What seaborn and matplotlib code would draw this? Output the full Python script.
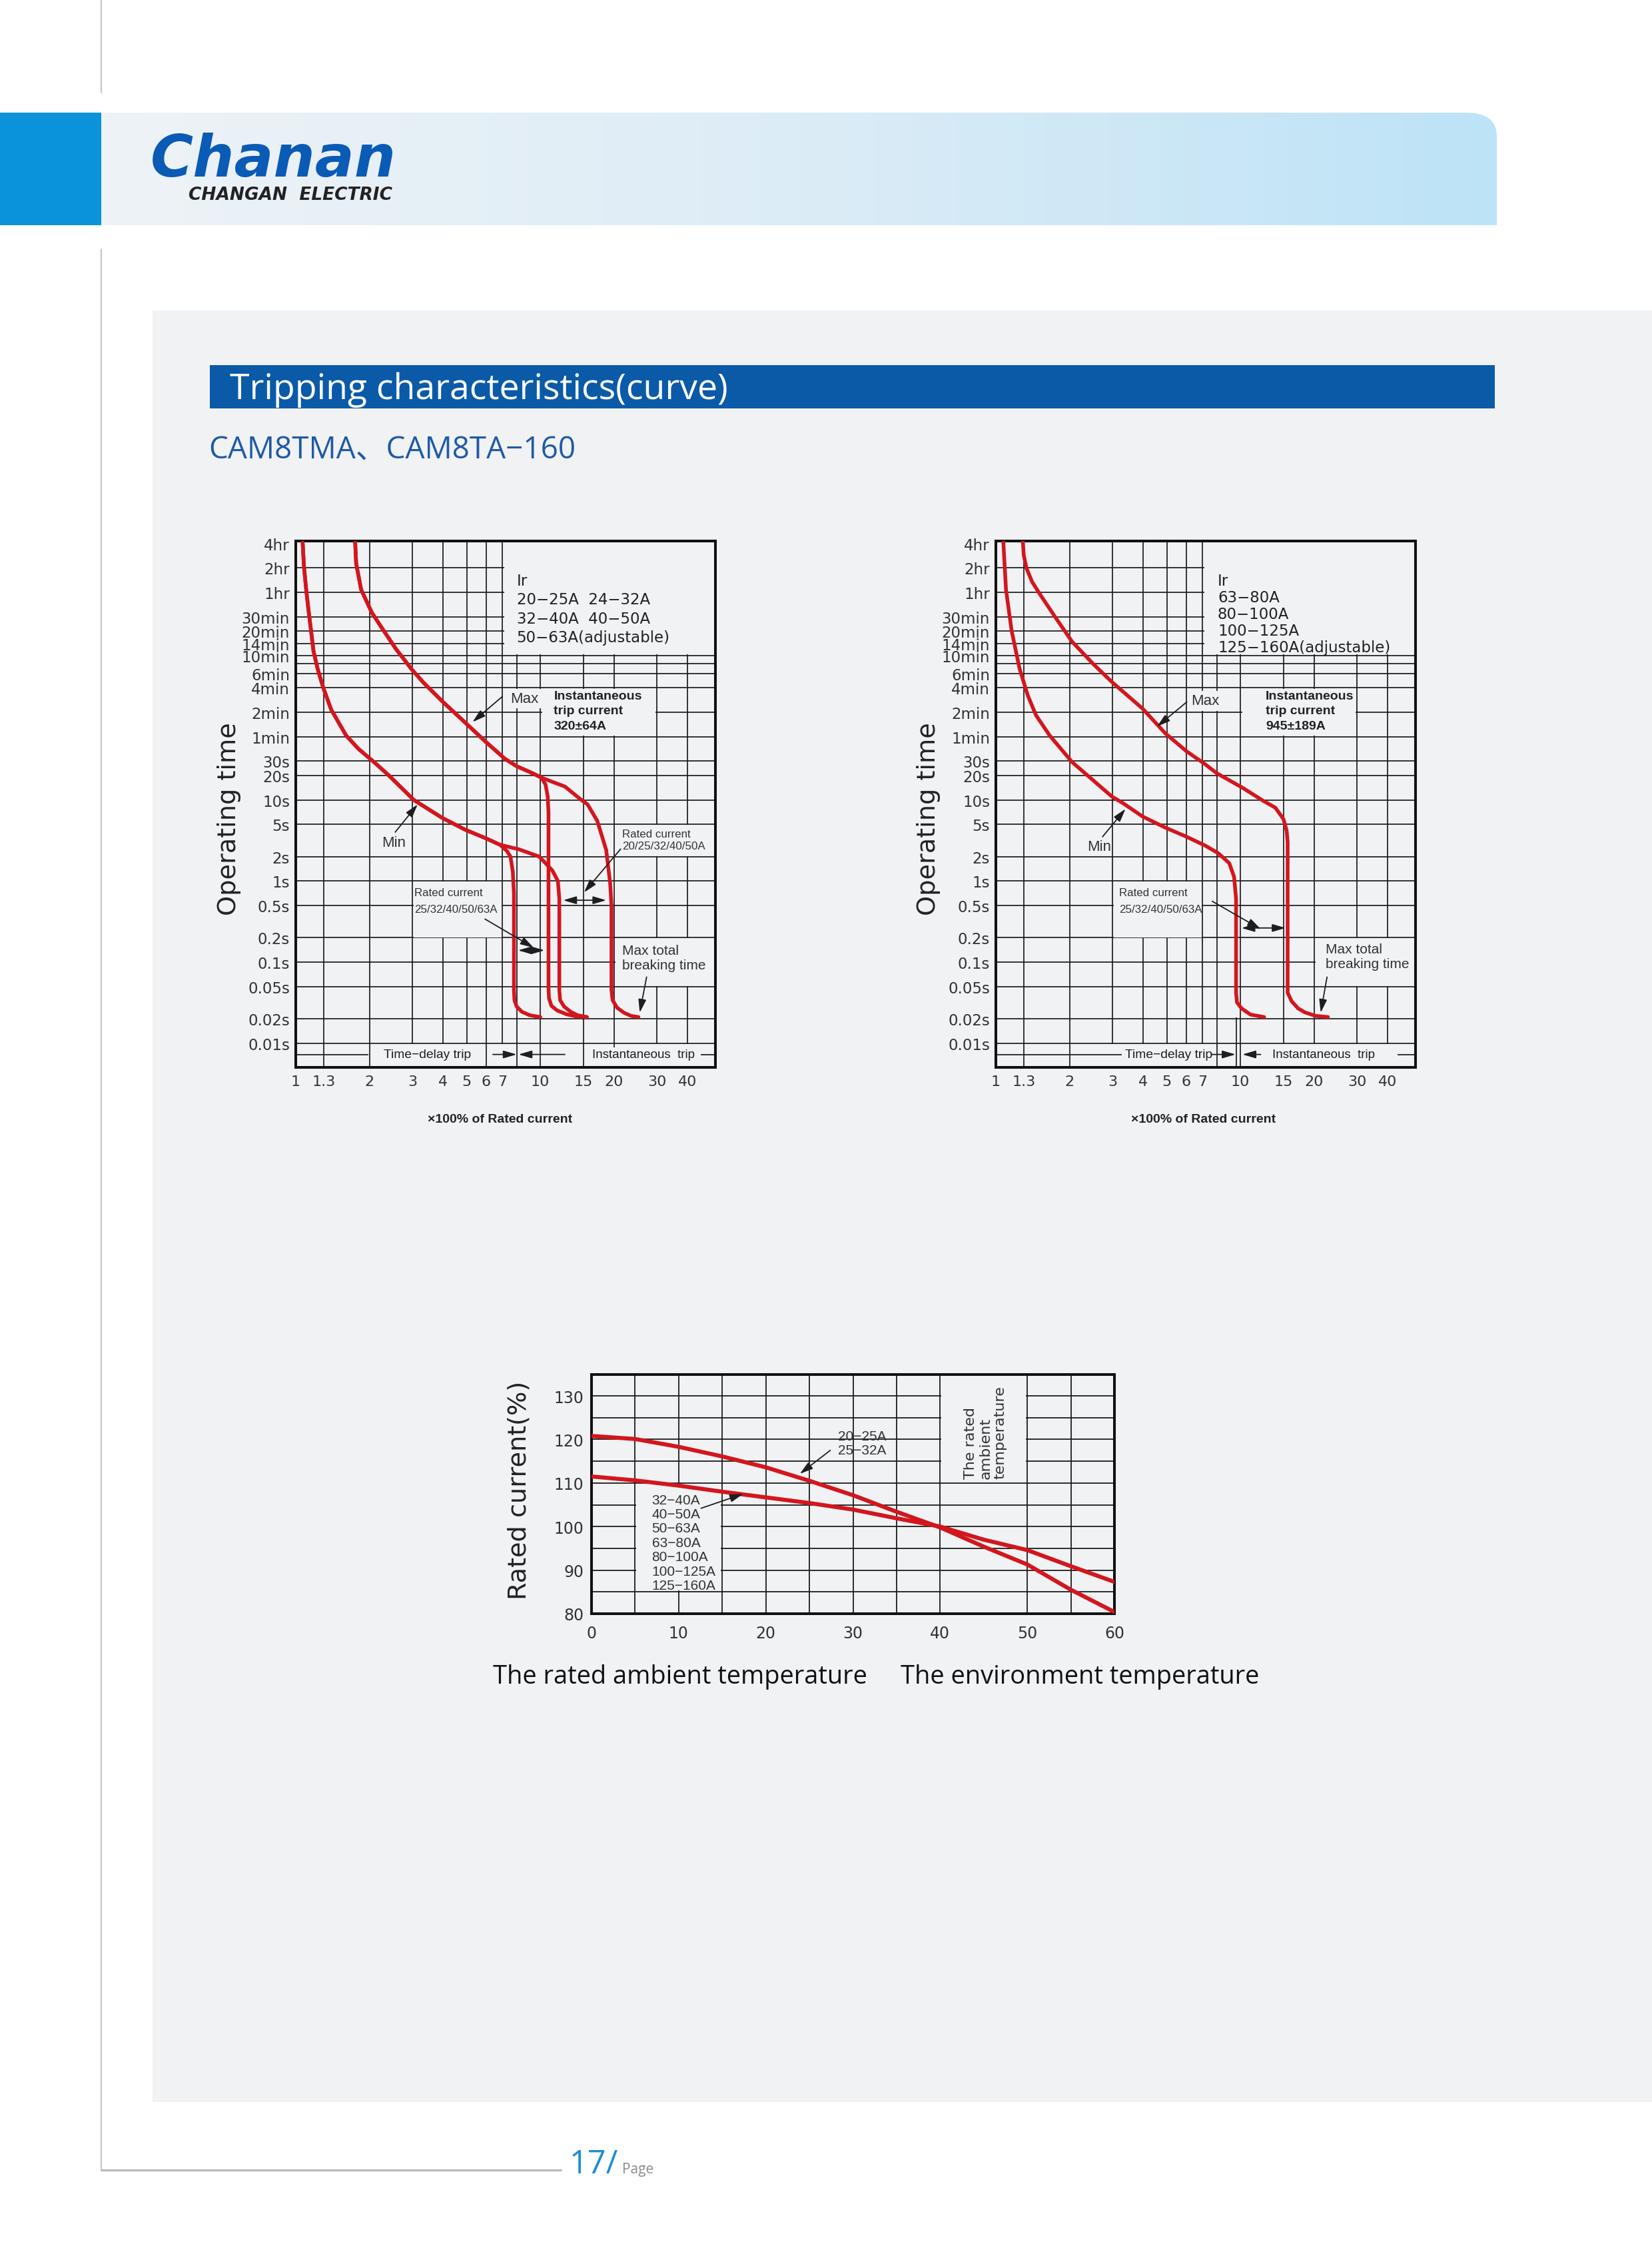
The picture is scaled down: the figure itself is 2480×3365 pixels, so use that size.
import numpy as np
import pandas as pd
import matplotlib
matplotlib.use("Agg")
import matplotlib.pyplot as plt
import seaborn as sns
from matplotlib.patches import Rectangle, PathPatch
from matplotlib.path import Path
from matplotlib.colors import LinearSegmentedColormap
from matplotlib.ticker import NullLocator

sns.set_theme(style="white")
plt.rcParams['font.family'] = ['DejaVu Sans']

# ---------------------------------------------------------------- data
TIME_TICKS = [14400, 7200, 3600, 1800, 1200, 840, 600, 360, 240, 120, 60, 30, 20, 10,
              5, 2, 1, 0.5, 0.2, 0.1, 0.05, 0.02, 0.01]
TIME_LABELS = ['4hr', '2hr', '1hr', '30min', '20min', '14min', '10min', '6min', '4min',
               '2min', '1min', '30s', '20s', '10s', '5s', '2s', '1s', '0.5s', '0.2s',
               '0.1s', '0.05s', '0.02s', '0.01s']
TIME_GRID = [7200, 3600, 1800, 1200, 840, 600, 480, 360, 240, 120, 60, 30, 20, 10,
             5, 2, 1, 0.5, 0.2, 0.1, 0.05, 0.02, 0.01]
MULT_TICKS = [1, 1.3, 2, 3, 4, 5, 6, 7, 10, 15, 20, 30, 40]
MULT_LABELS = ['1', '1.3', '2', '3', '4', '5', '6', '7', '10', '15', '20', '30', '40']
MULT_GRID = [1.3, 2, 3, 4, 5, 6, 7, 8, 10, 15, 20, 30, 40]

# CAM8TMA (Ir 20-63A) curves
A_MIN_X = [1.067, 1.080, 1.103, 1.131, 1.155, 1.181, 1.228, 1.293, 1.395, 1.607, 1.803,
           2.10, 2.39, 3.04, 3.97, 4.92, 6.0, 6.84]
A_MIN_Y = [14700, 7570, 3900, 2010, 1213, 687, 414, 245, 130, 62, 42.6,
           28.8, 20.3, 9.96, 6.0, 4.3, 3.35, 2.8]
A_MIN_LOW_X = [7.3, 7.55, 7.72, 7.8, 7.8, 7.84, 8.0, 8.4, 9.05, 10.0]
A_MIN_LOW_Y = [2.35, 2.0, 1.3, 0.7, 0.045, 0.034, 0.0285, 0.0245, 0.0222, 0.0211]
A_MIN_HIGH_X = [8.2, 9.9, 11.2, 11.8, 11.96, 11.96, 12.05, 12.5, 13.3, 14.2, 15.5]
A_MIN_HIGH_Y = [2.45, 2.0, 1.35, 1.0, 0.6, 0.045, 0.034, 0.0285, 0.0245, 0.0222, 0.0211]
A_MAX_X = [1.75, 1.766, 1.85, 2.05, 2.27, 2.57, 2.98, 3.33, 3.97, 4.92, 6.0,
           7.17, 8.0, 9.29, 10.1]
A_MAX_Y = [14700, 8170, 3900, 2010, 1260, 721, 405, 278, 164, 90, 51.5,
           32, 26, 21.3, 18.8]
A_MAX_LOW_X = [10.5, 10.72, 10.8, 10.8, 10.85, 11.1, 11.7, 12.8, 14.0, 15.5]
A_MAX_LOW_Y = [15.5, 11, 7, 0.048, 0.036, 0.029, 0.0255, 0.0228, 0.0215, 0.0211]
A_MAX_HIGH_X = [11.3, 12.6, 14.7, 15.6, 17.1, 18.6, 19.3, 19.54, 19.54, 19.75, 20.6, 22.0, 23.5, 25.2]
A_MAX_HIGH_Y = [16.5, 14.6, 10.0, 8.8, 5.5, 2.4, 0.94, 0.5, 0.045, 0.034, 0.0275, 0.0238, 0.0218, 0.0211]

# CAM8TA-160 (Ir 63-160A) curves
B_MIN_X = [1.073, 1.10, 1.16, 1.25, 1.35, 1.46, 1.66, 2.05, 2.98, 3.31, 3.98, 4.93, 6.0,
           7.18, 8.12, 9.0, 9.42, 9.6, 9.6, 9.68, 10.1, 11.0, 12.5]
B_MIN_Y = [15000, 3900, 1213, 414, 194, 110, 62, 29.2, 11, 9.1, 6.24, 4.55, 3.53,
           2.73, 2.2, 1.66, 1.13, 0.6, 0.042, 0.032, 0.027, 0.0226, 0.0211]
B_MAX_X = [1.29, 1.30, 1.335, 1.406, 1.50, 1.75, 2.05, 2.5, 2.98, 3.98, 4.93, 6.0, 7.18,
           8.0, 10.2, 12.35, 13.9, 15.0, 15.45, 15.6, 15.6, 16.2, 17.2, 18.4, 20.3, 22.8]
B_MAX_Y = [15000, 10380, 7110, 4870, 3570, 1780, 889, 473, 284, 133, 66, 40, 27.4,
           21.3, 14.1, 9.8, 8.0, 5.8, 4.2, 3.0, 0.042, 0.033, 0.027, 0.024, 0.0218, 0.0211]

# Temperature derating chart
TEMP_C = [0, 5, 10, 15, 20, 25, 30, 35, 40, 45, 50, 55, 60]
RATED_20_32A = [120.8, 120.1, 118.3, 116.1, 113.6, 110.5, 107.2, 103.4, 99.8, 95.4, 91.3, 85.5, 80.4]
RATED_32_160A = [111.5, 110.6, 109.4, 108.0, 106.7, 105.4, 103.9, 101.9, 100.0, 97.0, 94.6, 90.9, 87.3]
TEMP_TICKS = [0, 10, 20, 30, 40, 50, 60]
TEMP_GRID = [5, 10, 15, 20, 25, 30, 35, 40, 50, 55]
PCT_TICKS = [80, 90, 100, 110, 120, 130]
PCT_GRID = [85, 90, 95, 100, 105, 110, 115, 120, 125, 130]

# ---------------------------------------------------------------- style
W, H = 2480, 3366
PANEL = '#f1f2f4'
RED = '#d3161e'
GRID = '#1c1c1c'
INK = '#1e1e1e'
X_LO, X_HI = 1.0, 52.0
Y_LO, Y_HI = 0.00506, 15460
ROW_Y = 0.0073
ARIAL = ['Liberation Sans', 'DejaVu Sans']
OPEN = ['Open Sans', 'Noto Sans CJK SC', 'DejaVu Sans']

fig = plt.figure(figsize=(W / 100, H / 100), dpi=100, facecolor='white')

# ---------------------------------------------------------------- page background
bg = fig.add_axes([0, 0, 1, 1], zorder=-10)
bg.axis('off')
bg.add_patch(Rectangle((229, 467), W - 229, 3156 - 467, fc=PANEL, ec='none', zorder=0))
bg.add_patch(Rectangle((0, 170), 152, 169, fc='#0a93d8', ec='none', zorder=1))
hx0, hx1, hy0, hy1 = 152, 2247, 170, 339
verts = [(hx0, hy0), (hx1 - 47, hy0), (hx1, hy0), (hx1, hy0 + 35), (hx1, hy1), (hx0, hy1), (hx0, hy0)]
codes = [Path.MOVETO, Path.LINETO, Path.CURVE3, Path.CURVE3, Path.LINETO, Path.LINETO, Path.CLOSEPOLY]
clip = PathPatch(Path(verts, codes), transform=bg.transData, fc='none', ec='none')
cmap = LinearSegmentedColormap.from_list('hdr', ['#eef3f7', '#dcecf6', '#bde3f6'])
im = bg.imshow(np.linspace(0, 1, 512)[None, :], extent=(hx0, hx1, hy1, hy0), aspect='auto',
               cmap=cmap, interpolation='bilinear', zorder=1)
im.set_clip_path(clip)
bg.plot([152, 152], [0, 140], color='#c8c8c8', lw=1.6, zorder=2)
bg.plot([152, 152], [375, 3258], color='#c8c8c8', lw=1.6, zorder=2)
bg.plot([152, 842], [3258, 3258], color='#b8b8b8', lw=2.2, zorder=2)
bg.add_patch(Rectangle((315, 549), 1929, 65, fc='#0b5aa8', ec='none', zorder=2))
bg.text(345, 585, 'Tripping characteristics(curve)', color='white', fontsize=38.5,
        family=OPEN, va='center', ha='left', zorder=3)
bg.text(313, 676, 'CAM8TMA、CAM8TA−160', color='#1f5aa6', fontsize=33,
        family=OPEN, va='center', ha='left', zorder=3)
bg.text(226, 265, 'Chanan', color='#0a5bb5', fontsize=63, fontweight='bold',
        fontstyle='italic', va='baseline', ha='left', zorder=3)
bg.text(283, 300, 'CHANGAN  ELECTRIC', color='#222222', fontsize=19, fontweight='bold',
        fontstyle='italic', va='baseline', ha='left', zorder=3)
bg.text(855, 3262, '17/', color='#1a8fd4', fontsize=35, family=OPEN, va='baseline', ha='left')
bg.text(934, 3262, 'Page', color='#8a8a8a', fontsize=15, family=OPEN, va='baseline', ha='left')
bg.set_xlim(0, W)
bg.set_ylim(H, 0)


def arrow(ax, tail, tip, style='-|>'):
    ax.annotate('', xy=tip, xytext=tail, xycoords='data', textcoords='data',
                arrowprops=dict(arrowstyle=style + ',head_length=0.75,head_width=0.22',
                                color=INK, lw=1.3, mutation_scale=16, shrinkA=0, shrinkB=0),
                zorder=5)


def curves_frame(named):
    rows = []
    for name, (xs, ys) in named.items():
        for x, y in zip(xs, ys):
            rows.append({'curve': name, 'mult': x, 'time': y})
    return pd.DataFrame(rows)


def trip_chart(ax, df, sp):
    ax.set_facecolor(PANEL)
    ax.set_xscale('log')
    ax.set_yscale('log')
    ax.set_xlim(X_LO, X_HI)
    ax.set_ylim(Y_LO, Y_HI)
    for v in MULT_GRID:
        ax.axvline(v, color=GRID, lw=1.25, zorder=1)
    for v in TIME_GRID:
        ax.axhline(v, color=GRID, lw=1.25, zorder=1)
    for (x0, x1, y0, y1) in sp['masks']:
        ax.add_patch(Rectangle((x0, y0), x1 - x0, y1 - y0, fc=PANEL, ec='none', zorder=1.5))
    ax.add_patch(Rectangle((X_LO, Y_LO), X_HI - X_LO, 0.0098 - Y_LO, fc=PANEL, ec='none', zorder=1.5))
    ax.vlines(sp['band_x'], Y_LO, 0.01, color=GRID, lw=1.25, zorder=1.6)
    for (x, y0, y1) in sp['stubs']:
        ax.vlines(x, y0, y1, color=GRID, lw=1.25, zorder=1.6)
    for (a, b) in sp['row_segments']:
        ax.hlines(ROW_Y, a, b, color=GRID, lw=1.25, zorder=1.6)
    arrow(ax, (sp['row_r'][0], ROW_Y), (sp['row_r'][1], ROW_Y))
    arrow(ax, (sp['row_l'][0], ROW_Y), (sp['row_l'][1], ROW_Y))
    ax.text(sp['row_txt'][0], ROW_Y, 'Time−delay trip', family=ARIAL, fontsize=13.9,
            color=INK, ha='center', va='center', zorder=4)
    ax.text(sp['row_txt'][1], ROW_Y, 'Instantaneous  trip', family=ARIAL, fontsize=13.5,
            color=INK, ha='center', va='center', zorder=4)

    sns.lineplot(data=df, x='mult', y='time', units='curve', estimator=None, sort=False,
                 color=RED, linewidth=4.0, ax=ax, legend=False, zorder=3)

    # annotations
    ax.text(sp['ir'][0], sp['ir'][1], sp['ir'][2], fontsize=16.5, color='#222222',
            ha='left', va='top', linespacing=sp['ir'][3], zorder=4)
    ax.text(sp['inst'][0], sp['inst'][1], sp['inst'][2], family=ARIAL, fontsize=14,
            fontweight='bold', color='#222222', ha='left', va='top', linespacing=1.45, zorder=4)
    ax.text(sp['max'][0], sp['max'][1], 'Max', family=ARIAL, fontsize=16, color='#333333',
            ha='left', va='center', zorder=4,
            bbox=dict(boxstyle='square,pad=0.2', fc=PANEL, ec='none'))
    arrow(ax, sp['max_arrow'][0], sp['max_arrow'][1])
    ax.text(sp['min'][0], sp['min'][1], 'Min', family=ARIAL, fontsize=16, color='#333333',
            ha='center', va='center', zorder=4)
    arrow(ax, sp['min_arrow'][0], sp['min_arrow'][1])
    for (tx, ty, txt, ls) in sp['rated']:
        ax.text(tx, ty, txt, family=ARIAL, fontsize=12.2, color='#333333', ha='left',
                va='top', linespacing=ls, zorder=4)
    for (tail, tip) in sp['rated_arrows']:
        arrow(ax, tail, tip)
    for (y, a, b) in sp['double']:
        arrow(ax, (a, y), (b, y), style='<|-|>')
    ax.text(sp['mtb'][0], sp['mtb'][1], 'Max total\nbreaking time', family=ARIAL,
            fontsize=15, color='#333333', ha='left', va='top', linespacing=1.16, zorder=4)
    arrow(ax, sp['mtb_arrow'][0], sp['mtb_arrow'][1])

    ax.set_xticks(MULT_TICKS)
    ax.set_xticklabels(MULT_LABELS)
    ax.set_yticks(TIME_TICKS)
    ax.set_yticklabels(TIME_LABELS)
    ax.xaxis.set_minor_locator(NullLocator())
    ax.yaxis.set_minor_locator(NullLocator())
    ax.tick_params(axis='both', which='both', length=0, colors='#333333')
    ax.tick_params(axis='y', labelsize=16.5, pad=6.5)
    ax.tick_params(axis='x', labelsize=16, pad=8)
    for s in ax.spines.values():
        s.set_linewidth(2.9)
        s.set_color('#111111')
        s.set_visible(True)
    ax.set_ylabel('Operating time', fontsize=27.5, color='#222222')
    ax.yaxis.set_label_coords(sp['ylab_x'], 0.473)
    ax.set_xlabel('×100% of Rated current', family=ARIAL, fontsize=14, fontweight='bold',
                  color='#222222')
    ax.xaxis.set_label_coords(sp['xlab_x'], -0.087)


IR_BOX = (7.1, X_HI, 625, Y_HI)
INST_BOX = (10.15, 29.5, 62, 233)
MTB_BOX = (20.3, X_HI, 0.0505, 0.197)

axL = fig.add_axes([444 / W, 1 - 1603 / H, 630 / W, 790 / H])
dfL = curves_frame({
    'min_low': (A_MIN_X + A_MIN_LOW_X, A_MIN_Y + A_MIN_LOW_Y),
    'min_high': (A_MIN_X + A_MIN_HIGH_X, A_MIN_Y + A_MIN_HIGH_Y),
    'max_low': (A_MAX_X + A_MAX_LOW_X, A_MAX_Y + A_MAX_LOW_Y),
    'max_high': (A_MAX_X + A_MAX_HIGH_X, A_MAX_Y + A_MAX_HIGH_Y),
})
trip_chart(axL, dfL, {
    'masks': [IR_BOX, INST_BOX, (20.3, X_HI, 2.03, 4.93), (3.03, 6.93, 0.203, 0.985), MTB_BOX],
    'band_x': [1.3, 2, 6, 8, 10, 15],
    'stubs': [(20, 0.0089, 0.01)],
    'row_segments': [(X_LO, 1.98), (45.3, X_HI)],
    'row_r': (6.4, 8.0), 'row_l': (12.6, 8.15),
    'row_txt': (3.46, 26.4),
    'ir': (8.0, 6290, 'Ir\n20−25A  24−32A\n32−40A  40−50A\n50−63A(adjustable)', 1.31),
    'inst': (11.35, 226, 'Instantaneous\ntrip current\n320±64A'),
    'max': (7.56, 177), 'max_arrow': ((7.0, 188), (5.28, 90.8)),
    'min': (2.52, 3.0), 'min_arrow': ((2.55, 4.0), (3.15, 8.8)),
    'rated': [(21.6, 4.4, 'Rated current\n20/25/32/40/50A', 1.26),
              (3.06, 0.83, 'Rated current\n25/32/40/50/63A', 1.78)],
    'rated_arrows': [((21.3, 2.48), (15.1, 0.724)), ((5.94, 0.34), (9.39, 0.151))],
    'double': [(0.58, 12.4, 18.6), (0.14, 8.12, 10.4)],
    'mtb': (21.6, 0.166), 'mtb_arrow': ((27.2, 0.0656), (25.5, 0.0239)),
    'ylab_x': -0.130, 'xlab_x': 0.487,
})

axR = fig.add_axes([1495 / W, 1 - 1603 / H, 630 / W, 790 / H])
dfR = curves_frame({
    'min': (B_MIN_X, B_MIN_Y),
    'max': (B_MAX_X, B_MAX_Y),
})
trip_chart(axR, dfR, {
    'masks': [IR_BOX, INST_BOX, (3.03, 6.93, 0.203, 0.985), MTB_BOX],
    'band_x': [1.3, 2, 8, 10],
    'stubs': [(9.65, Y_LO, 0.021)],
    'row_segments': [(X_LO, 3.27), (44, X_HI)],
    'row_r': (7.6, 9.55), 'row_l': (12.1, 10.2),
    'row_txt': (5.08, 21.9),
    'ir': (8.07, 6290, 'Ir\n63−80A\n80−100A\n100−125A\n125−160A(adjustable)', 1.12),
    'inst': (12.7, 226, 'Instantaneous\ntrip current\n945±189A'),
    'max': (6.28, 166), 'max_arrow': ((6.04, 161), (4.56, 80)),
    'min': (2.64, 2.64), 'min_arrow': ((2.73, 3.51), (3.39, 7.74)),
    'rated': [(3.19, 0.83, 'Rated current\n25/32/40/50/63A', 1.78)],
    'rated_arrows': [((7.67, 0.563), (12.1, 0.256))],
    'double': [(0.264, 10.1, 15.3)],
    'mtb': (22.3, 0.172), 'mtb_arrow': ((22.6, 0.0656), (21.3, 0.0239)),
    'ylab_x': -0.132, 'xlab_x': 0.494,
})

# ---------------------------------------------------------------- temperature chart
axT = fig.add_axes([888 / W, 1 - 2423 / H, 785 / W, 359 / H])
axT.set_facecolor(PANEL)
T_TOP = 134.9
axT.set_xlim(0, 60)
axT.set_ylim(80, T_TOP)
for v in TEMP_GRID:
    axT.axvline(v, color=GRID, lw=1.3, zorder=1)
for v in PCT_GRID:
    axT.axhline(v, color=GRID, lw=1.3, zorder=1)
for (x0, x1, y0, y1) in [(5.15, 14.85, 85.3, 109.7), (40.15, 49.85, 110.3, T_TOP)]:
    axT.add_patch(Rectangle((x0, y0), x1 - x0, y1 - y0, fc=PANEL, ec='none', zorder=1.5))
dfT = pd.DataFrame({
    'temp': TEMP_C + TEMP_C,
    'pct': RATED_20_32A + RATED_32_160A,
    'group': ['20-32A'] * len(TEMP_C) + ['32-160A'] * len(TEMP_C),
})
sns.lineplot(data=dfT, x='temp', y='pct', units='group', estimator=None, sort=False,
             color=RED, linewidth=4.4, ax=axT, legend=False, zorder=3)
axT.text(28.26, 122.2, '20−25A\n25−32A', family=ARIAL, fontsize=15, color='#333333',
         ha='left', va='top', linespacing=1.16, zorder=4)
arrow(axT, (27.4, 117.5), (23.9, 112.1))
axT.text(6.92, 107.6, '32−40A\n40−50A\n50−63A\n63−80A\n80−100A\n100−125A\n125−160A',
         family=ARIAL, fontsize=15, color='#333333', ha='left', va='top', linespacing=1.16, zorder=4)
arrow(axT, (12.57, 104.2), (17.4, 107.5))
axT.text(45.2, 111.0, 'The rated\nambient\ntemperature', fontsize=16, color='#333333',
         rotation=90, ha='center', va='bottom', multialignment='left', linespacing=1.13, zorder=4)
axT.set_xticks(TEMP_TICKS)
axT.set_yticks(PCT_TICKS)
axT.tick_params(axis='both', length=0, labelsize=17, colors='#333333')
axT.tick_params(axis='x', pad=12)
axT.tick_params(axis='y', pad=8.5)
for s in axT.spines.values():
    s.set_linewidth(2.9)
    s.set_color('#111111')
    s.set_visible(True)
axT.set_ylabel('Rated current(%)', fontsize=27.5, color='#222222')
axT.yaxis.set_label_coords(-0.115, 0.518)
axT.set_xlabel('')
axT.text(0.169, -0.262, 'The rated ambient temperature', transform=axT.transAxes,
         family=OPEN, fontsize=27.4, color='#111111', ha='center', va='center')
axT.text(0.934, -0.262, 'The environment temperature', transform=axT.transAxes,
         family=OPEN, fontsize=27.4, color='#111111', ha='center', va='center')

fig.savefig('out.png', dpi=100, facecolor='white')
